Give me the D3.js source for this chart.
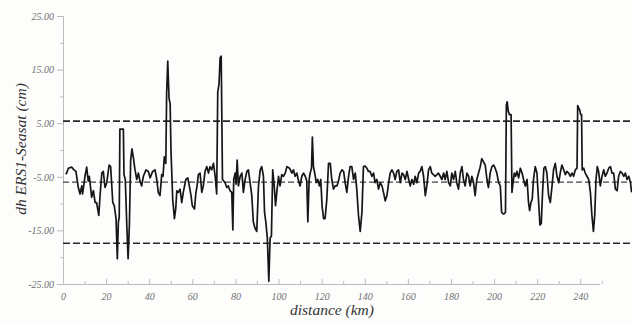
<!DOCTYPE html>
<html>
<head>
<meta charset="utf-8">
<script src="https://cdn.jsdelivr.net/npm/d3@7/dist/d3.min.js"></script>
<style>
  html, body { margin: 0; padding: 0; background: #fdfdfc; }
  svg { display: block; }
  text { font-family: "Liberation Serif", "Times New Roman", serif; font-style: italic; }
</style>
</head>
<body>
<svg id="chart" width="632" height="324"></svg>
<script>
// ---- data ----
const distance = [
  1.2,1.7,2.5,4.0,5.1,6.0,7.1,7.9,8.7,9.1,10.2,11.0,11.7,12.2,13.3,14.1,14.9,15.6,16.6,17.2,
  18.0,18.7,19.5,20.3,21.4,22.1,23.1,23.8,24.6,25.2,25.7,26.1,26.4,28.0,28.3,28.9,29.6,30.2,30.8,31.4,
  32.0,32.6,33.3,34.2,35.0,35.7,36.5,37.3,38.5,39.6,40.4,41.6,42.7,
  43.5,44.2,45.0,45.8,46.4,47.0,47.7,48.1,48.6,49.2,49.7,50.1,50.9,51.7,52.3,52.8,53.5,54.3,55.1,55.8,
  57.0,57.9,58.6,59.4,60.0,61.0,61.6,62.2,62.8,63.6,64.4,65.1,65.9,66.7,67.5,68.2,69.0,69.8,70.6,71.3,
  71.8,72.4,72.9,73.4,74.0,75.2,76.0,76.7,77.5,78.3,78.8,79.2,79.9,80.3,80.8,81.4,82.2,83.0,83.7,84.5,
  85.3,86.0,86.8,
  87.6,88.3,89.1,89.9,90.7,91.5,92.2,93.0,93.5,94.1,94.8,95.5,96.1,96.7,97.3,98.0,98.6,99.2,100.0,100.7,
  101.5,102.3,103.1,103.9,105.1,106.2,106.9,107.7,108.5,109.3,110.0,110.8,111.6,112.4,113.1,113.6,114.2,114.7,115.3,115.7,
  116.2,116.8,117.5,118.2,119.0,119.6,120.2,120.9,121.6,122.4,123.2,124.0,124.7,125.5,126.3,127.1,127.8,128.6,129.4,130.2,
  130.9,
  131.7,132.5,133.2,134.0,134.8,135.6,136.3,137.1,137.9,138.7,139.4,140.2,141.0,141.7,142.5,143.3,144.1,144.8,145.6,146.4,
  147.2,148.0,148.7,149.5,150.3,151.1,151.8,152.6,153.4,154.1,154.9,155.7,156.5,157.3,158.0,158.8,159.6,160.4,161.1,161.9,
  162.7,163.4,164.2,165.0,165.7,166.5,167.3,168.1,168.8,169.6,170.4,171.1,171.9,172.7,173.5,174.2,175.0,
  175.8,176.6,177.3,178.1,178.9,179.7,180.4,181.2,182.0,182.7,183.5,184.3,185.1,185.8,186.6,187.4,188.2,188.9,189.7,190.5,
  191.2,192.0,192.8,193.6,194.3,195.1,195.9,196.7,197.4,198.2,199.0,199.8,200.5,201.3,202.1,202.9,203.5,204.1,204.7,205.3,
  205.7,206.1,206.6,207.2,207.9,208.3,208.8,209.4,210.0,210.6,211.4,212.2,213.0,213.7,214.5,215.3,216.0,216.5,217.1,217.7,
  218.3,219.1,
  219.9,220.6,221.3,221.9,222.5,223.1,223.8,224.5,225.3,226.1,226.9,227.6,228.4,229.2,230.0,230.7,231.5,232.3,233.1,233.8,
  234.6,235.4,236.2,236.9,237.7,238.5,238.8,239.3,239.7,240.2,240.6,240.9,241.6,242.3,243.1,243.9,244.7,245.4,246.1,246.7,
  247.3,247.9,248.5,249.3,250.1,250.9,251.6,252.4,253.2,254.0,254.7,255.5,256.3,257.1,257.8,258.6,259.4,260.2,260.9,261.7,
  262.5,263.3,263.8
];
const dh = [
  -4.5,-4.3,-3.4,-3.2,-3.7,-4.0,-7.0,-8.2,-6.7,-8.2,-4.9,-3.2,-5.8,-4.9,-8.8,-7.6,-9.8,-9.8,-12.2,-8.5,
  -4.3,-4.0,-7.0,-6.1,-2.8,-3.1,-9.8,-10.4,-12.8,-20.3,-13.4,-12.5,3.9,3.9,-4.6,-5.5,-14.0,-20.3,-14.0,-1.9,
  0.2,-1.3,-3.4,-5.5,-4.3,-5.8,-6.7,-4.9,-3.7,-4.0,-5.2,-4.0,-3.7,
  -5.5,-7.9,-8.5,-4.6,-4.9,-1.3,-2.5,10.8,16.6,9.6,8.7,-0.1,-9.2,-12.8,-11.0,-7.6,-7.9,-7.3,-9.8,-7.9,
  -5.5,-5.2,-6.7,-8.5,-10.4,-11.0,-8.2,-6.7,-4.6,-4.3,-7.9,-6.7,-4.0,-3.1,-4.3,-3.1,-3.7,-2.5,-4.9,-8.2,
  10.8,12.4,17.2,17.5,-5.5,-6.1,-7.0,-6.7,-7.6,-7.9,-14.9,-5.5,-4.3,-6.4,-1.9,-6.7,-4.9,-4.3,-7.9,-5.5,
  -4.0,-3.7,-6.1,
  -8.5,-13.4,-14.6,-15.2,-6.7,-3.7,-3.1,-4.9,-11.6,-13.4,-16.4,-24.5,-16.4,-16.1,-3.7,-6.7,-10.4,-7.9,-4.9,-6.7,
  -4.6,-4.9,-4.3,-3.1,-3.4,-4.3,-3.7,-4.9,-4.3,-5.8,-6.7,-4.9,-4.3,-4.9,-5.8,-13.4,-5.5,-4.3,-3.4,2.4,
  -3.1,-4.3,-6.1,-5.5,-6.7,-5.5,-10.4,-12.8,-12.8,-9.2,-2.5,-2.5,-5.5,-7.3,-6.7,-6.7,-5.8,-4.3,-3.7,-4.0,
  -6.1,
  -7.9,-4.9,-3.1,-3.1,-5.5,-4.3,-7.3,-12.2,-15.2,-11.6,-3.1,-3.0,-3.4,-4.0,-4.0,-4.9,-4.3,-6.1,-5.5,-7.3,
  -6.1,-6.7,-7.9,-9.5,-8.5,-6.1,-4.3,-3.7,-4.3,-5.5,-4.0,-3.7,-6.1,-4.3,-4.6,-5.5,-4.0,-5.5,-6.7,-5.5,
  -6.4,-4.9,-6.1,-4.3,-4.0,-3.1,-4.9,-8.5,-6.7,-3.7,-3.1,-4.3,-4.6,-4.9,-4.6,-4.3,-4.9,
  -5.5,-4.3,-5.5,-4.0,-6.1,-6.7,-4.3,-5.5,-4.0,-6.1,-7.3,-4.3,-3.1,-5.5,-6.7,-4.3,-4.9,-6.7,-4.9,-6.1,
  -8.5,-5.5,-4.3,-3.1,-1.6,-2.2,-2.8,-5.5,-7.0,-4.3,-3.1,-2.8,-3.4,-4.3,-6.1,-6.7,-11.6,-11.9,-11.9,-11.6,
  8.4,9.0,7.2,6.6,6.6,-7.9,-6.1,-4.3,-4.9,-4.0,-5.2,-3.4,-4.3,-5.5,-6.7,-5.5,-9.8,-11.3,-9.8,-9.2,
  -5.5,-3.1,
  -4.3,-9.2,-14.0,-13.7,-7.9,-3.4,-3.1,-4.3,-8.5,-9.8,-6.7,-3.7,-2.5,-4.9,-6.1,-4.3,-2.8,-3.7,-4.6,-4.0,
  -4.3,-4.9,-4.3,-4.9,-3.7,-3.4,8.3,7.8,7.5,6.6,6.6,-3.7,-3.4,-4.3,-4.9,-5.5,-7.9,-12.2,-15.2,-12.2,
  -5.5,-3.1,-4.0,-6.7,-4.9,-3.7,-4.9,-4.3,-3.4,-3.1,-4.3,-4.3,-7.3,-7.6,-4.9,-4.0,-4.3,-4.9,-4.3,-5.5,
  -4.9,-6.1,-7.9
];
const refLines = [5.4, -6.0, -17.4];          // upper limit, mean, lower limit
const refStyles = ["limit", "mean", "limit"];
const yTicks = [-25, -15, -5, 5, 15, 25];
const yTickLabels = ["-25.00", "-15.00", "-5.00", "5.00", "15.00", "25.00"];
const yMinorTicks = [-20, -10, 0, 10, 20];
const xTicks = [0, 20, 40, 60, 80, 100, 120, 140, 160, 180, 200, 220, 240];
const xTickLabels = ["0","20","40","60","80","100","120","140","160","180","200","220","240"];
const xMinorTicks = [10, 30, 50, 70, 90, 110, 130, 150, 170, 190, 210, 230, 250];
const xAxisEnd = 249;
const yTitle = "dh ERS1-Seasat (cm)";
const xTitle = "distance (km)";

// ---- drawing ----
const svg = d3.select("#chart");
const x = d3.scaleLinear().domain([0, 264]).range([63, 632]);
const y = d3.scaleLinear().domain([-25, 25]).range([284, 16]);
const axisColor = "#bcbcbc";
const labelColor = "#707070";

// y axis
const gy = svg.append("g").attr("transform", `translate(${x(0)},0)`);
gy.call(d3.axisLeft(y).tickValues(yTicks).tickFormat((d, i) => yTickLabels[i]).tickSize(6).tickPadding(3));
gy.append("g").call(d3.axisLeft(y).tickValues(yMinorTicks).tickFormat("").tickSize(3))
  .select(".domain").remove();
gy.selectAll(".domain").attr("stroke", axisColor);
gy.selectAll(".tick line").attr("stroke", axisColor);
gy.selectAll(".tick text").attr("fill", labelColor).attr("font-size", 10)
  .attr("font-family", "Liberation Serif").attr("font-style", "italic");

// x axis
const gx = svg.append("g").attr("transform", `translate(0,${y(-25)})`);
const xAxisScale = x.copy().domain([0, xAxisEnd]).range([x(0), x(xAxisEnd)]);
gx.call(d3.axisBottom(xAxisScale).tickValues(xTicks).tickFormat((d, i) => xTickLabels[i]).tickSize(-5).tickPadding(9).tickSizeOuter(0));
gx.append("g").call(d3.axisBottom(xAxisScale).tickValues(xMinorTicks).tickFormat("").tickSize(-3))
  .select(".domain").remove();
gx.selectAll(".domain").attr("stroke", axisColor);
gx.selectAll(".tick line").attr("stroke", axisColor);
gx.selectAll(".tick text").attr("fill", labelColor).attr("font-size", 10)
  .attr("font-family", "Liberation Serif").attr("font-style", "italic");

// reference dashed lines
svg.append("g").selectAll("line").data(refLines).join("line")
  .attr("x1", x(0)).attr("x2", 632)
  .attr("y1", d => y(d)).attr("y2", d => y(d))
  .attr("stroke", (d, i) => refStyles[i] === "mean" ? "#444" : "#2a2a2a")
  .attr("stroke-width", (d, i) => refStyles[i] === "mean" ? 1.1 : 1.7)
  .attr("stroke-dasharray", (d, i) => refStyles[i] === "mean" ? "6,3" : "7,3");

// data line
const pts = distance.map((d, i) => [d, dh[i]]);
svg.append("path")
  .datum(pts)
  .attr("fill", "none")
  .attr("stroke", "#161616")
  .attr("stroke-width", 1.7)
  .attr("stroke-linejoin", "round")
  .attr("d", d3.line().x(d => x(d[0])).y(d => y(d[1])));

// titles
svg.append("text")
  .attr("transform", `translate(26,149) rotate(-90)`)
  .attr("text-anchor", "middle")
  .attr("font-size", 15.5)
  .attr("fill", "#333")
  .text(yTitle);
svg.append("text")
  .attr("x", 332).attr("y", 315)
  .attr("text-anchor", "middle")
  .attr("font-size", 15.5)
  .attr("fill", "#333")
  .text(xTitle);
</script>
</body>
</html>
